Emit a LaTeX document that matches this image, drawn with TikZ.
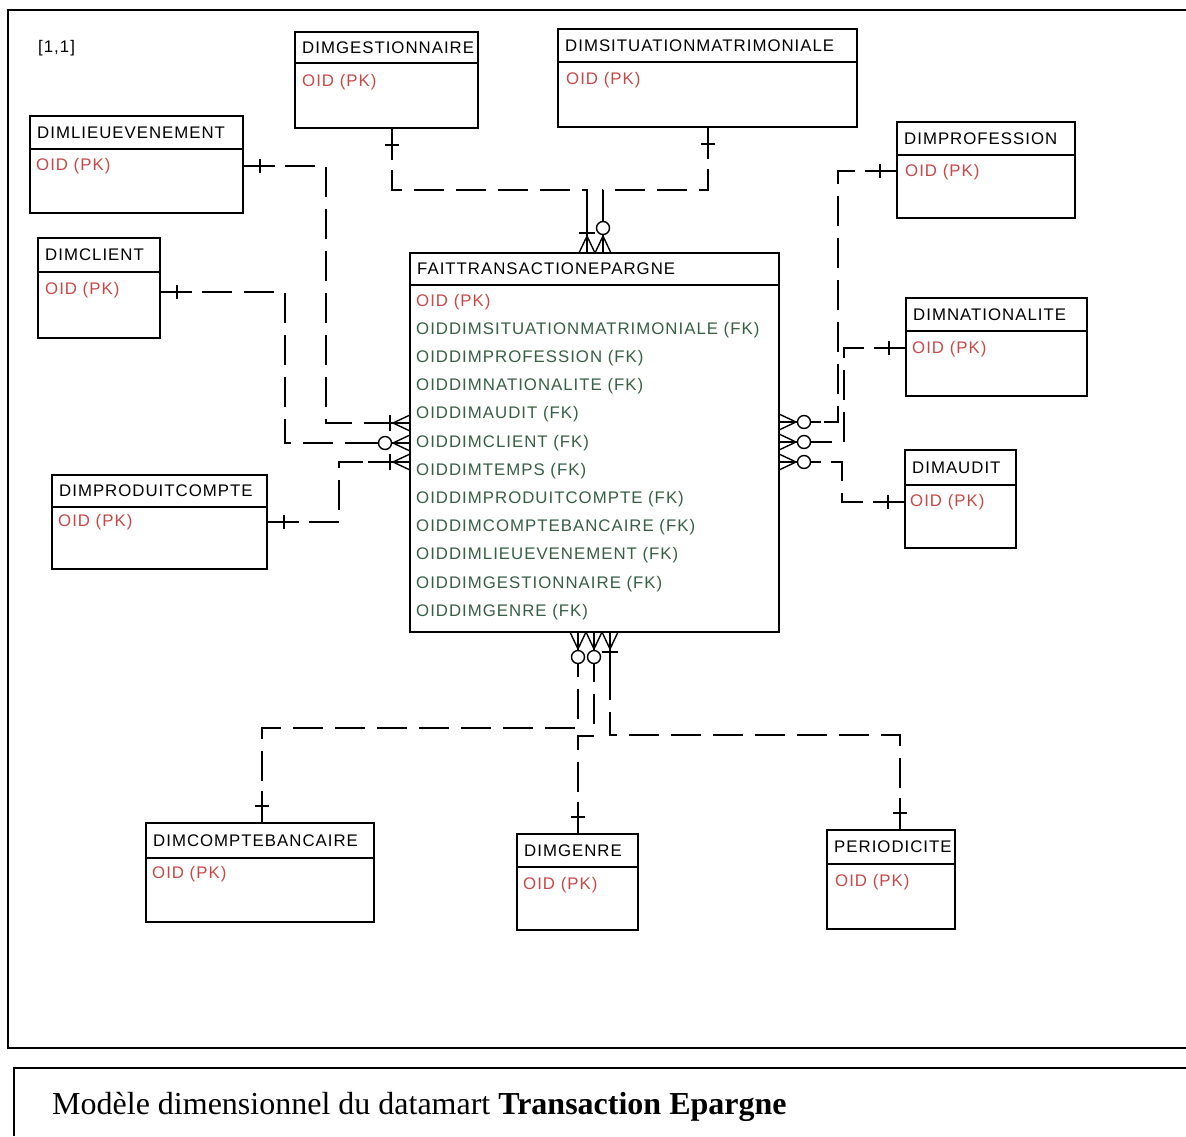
\documentclass[tikz,border=0pt]{standalone}
\usepackage{fontspec}
\setmainfont{Liberation Serif}
\newfontfamily\erfont[LetterSpace=6]{Liberation Sans}
\usetikzlibrary{calc}
\definecolor{pkred}{RGB}{200,72,72}
\definecolor{fkgreen}{RGB}{55,95,68}

% three prongs of a crow's foot; the edge is at the origin, the line leaves along +x
\newcommand\crowlines{\draw[solidln] (17,0) -- (0,-8) (17,0) -- (0,0) (17,0) -- (0,8);}

\tikzset{
  x=1pt, y=-1pt,
  ebox/.style={draw, line width=1.7pt, rectangle, inner sep=0pt, outer sep=0pt},
  eline/.style={line width=1.7pt},
  etitle/.style={anchor=west, inner sep=0pt, font=\erfont\fontsize{16.8}{18}\selectfont},
  epk/.style={anchor=west, inner sep=0pt, text=pkred, font=\erfont\fontsize{16.8}{18}\selectfont},
  efk/.style={anchor=west, inner sep=0pt, text=fkgreen, font=\erfont\fontsize{16.8}{18}\selectfont},
  frame/.style={line width=1.5pt},
  conn/.style={line width=1.4pt, dash pattern=on 30pt off 12pt},
  solidln/.style={line width=1.4pt, solid},
  zeromany/.pic={
    \draw[solidln] (0,0) -- (42,0);
    \crowlines
    \draw[solidln, fill=white] (25,0) circle (6.5pt);
  },
  onemany/.pic={
    \draw[solidln] (0,0) -- (42,0);
    \crowlines
    \draw[solidln] (20,-8) -- (20,8);
  },
  exactone/.pic={
    \draw[solidln] (0,0) -- (32,0);
    \draw[solidln] (17,-7) -- (17,7);
  }
}

% entity box: name, x1, y1, x2, y2, header rule y, title
\newcommand\erent[7]{%
  \node[ebox, minimum width={(#4)-(#2)}, minimum height={(#5)-(#3)}, anchor=north west] (#1) at (#2,#3) {};
  \draw[eline] (#2,#6) -- (#4,#6);
  \node[etitle] (#1-t) at ({#2+7},{(#3+#6)/2}) {#7};
}
\newcommand\erpk[3]{% name, x, y
  \node[epk] (#1-pk) at (#2,#3) {OID (PK)};
}

\begin{document}
\begin{tikzpicture}
\useasboundingbox (0,0) rectangle (1186,1136);
\fill[white] (0,0) rectangle (1186,1136);

% outer frames
\draw[frame] (1186,10) -- (8,10) -- (8,1048) -- (1186,1048);
\draw[frame] (1186,1068) -- (14,1068) -- (14,1136);

\node[etitle] (corner) at (38,48) {[1,1]};

% dimension tables
\erent{gest}{295}{32}{478}{128}{63}{DIMGESTIONNAIRE}
\erpk{gest}{302}{82}
\erent{sit}{558}{29}{857}{127}{62}{DIMSITUATIONMATRIMONIALE}
\erpk{sit}{566}{80}
\erent{lieu}{30}{116}{243}{213}{149}{DIMLIEUEVENEMENT}
\erpk{lieu}{36}{166}
\erent{client}{38}{238}{160}{338}{272}{DIMCLIENT}
\erpk{client}{45}{290}
\erent{prof}{897}{122}{1075}{218}{155}{DIMPROFESSION}
\erpk{prof}{905}{172}
\erent{nat}{906}{298}{1087}{396}{331}{DIMNATIONALITE}
\erpk{nat}{912}{349}
\erent{audit}{905}{450}{1016}{548}{485}{DIMAUDIT}
\erpk{audit}{910}{502}
\erent{prod}{52}{475}{267}{569}{507}{DIMPRODUITCOMPTE}
\erpk{prod}{58}{522}
\erent{cb}{146}{823}{374}{922}{858}{DIMCOMPTEBANCAIRE}
\erpk{cb}{152}{874}
\erent{genre}{517}{834}{638}{930}{867}{DIMGENRE}
\erpk{genre}{523}{885}
\erent{per}{827}{830}{955}{929}{864}{PERIODICITE}
\erpk{per}{835}{882}

% fact table
\erent{fait}{410}{253}{779}{632}{285}{FAITTRANSACTIONEPARGNE}
\erpk{fait}{416}{302}
\foreach \t [count=\i from 0] in {OIDDIMSITUATIONMATRIMONIALE (FK), OIDDIMPROFESSION (FK),
    OIDDIMNATIONALITE (FK), OIDDIMAUDIT (FK), OIDDIMCLIENT (FK), OIDDIMTEMPS (FK),
    OIDDIMPRODUITCOMPTE (FK), OIDDIMCOMPTEBANCAIRE (FK), OIDDIMLIEUEVENEMENT (FK),
    OIDDIMGESTIONNAIRE (FK), OIDDIMGENRE (FK)}
  \node[efk] (fk\i) at (416,{330+28.2*\i}) {\t};

% connectors
\draw[conn] (392,0 |- gest.south) |- (587,190) -- (587,0 |- fait.north);
\draw[conn] (708,0 |- sit.south) |- (603,190) -- (603,0 |- fait.north);
\draw[conn] (lieu.east |- 0,166) -| (326,423) -- (fait.west |- 0,423);
\draw[conn] (client.east |- 0,292) -| (285,443) -- (fait.west |- 0,443);
\draw[conn] (prod.east |- 0,522) -| (339,462) -- (fait.west |- 0,462);
\draw[conn] (prof.west |- 0,171) -| (838,422) -- (fait.east |- 0,422);
\draw[conn] (nat.west |- 0,348) -| (844,442) -- (fait.east |- 0,442);
\draw[conn] (audit.west |- 0,502) -| (842,462) -- (fait.east |- 0,462);
\draw[conn] (262,0 |- cb.north) |- (578,728) -- (578,0 |- fait.south);
\draw[conn] (578,0 |- genre.north) |- (594,736) -- (594,0 |- fait.south);
\draw[conn] (900,0 |- per.north) |- (610,735) -- (610,0 |- fait.south);

% cardinality marks on the dimension side
\pic[rotate=-90] at (392,0 |- gest.south) {exactone};
\pic[rotate=-90] at (708,0 |- sit.south) {exactone};
\pic at (lieu.east |- 0,166) {exactone};
\pic at (client.east |- 0,292) {exactone};
\pic at (prod.east |- 0,522) {exactone};
\pic[rotate=180] at (prof.west |- 0,171) {exactone};
\pic[rotate=180] at (nat.west |- 0,348) {exactone};
\pic[rotate=180] at (audit.west |- 0,502) {exactone};
\pic[rotate=90] at (262,0 |- cb.north) {exactone};
\pic[rotate=90] at (578,0 |- genre.north) {exactone};
\pic[rotate=90] at (900,0 |- per.north) {exactone};

% cardinality marks on the fact side
\pic[rotate=90] at (587,0 |- fait.north) {onemany};
\pic[rotate=90] at (603,0 |- fait.north) {zeromany};
\pic[rotate=180] at (fait.west |- 0,423) {onemany};
\pic[rotate=180] at (fait.west |- 0,443) {zeromany};
\pic[rotate=180] at (fait.west |- 0,462) {onemany};
\pic at (fait.east |- 0,422) {zeromany};
\pic at (fait.east |- 0,442) {zeromany};
\pic at (fait.east |- 0,462) {zeromany};
\pic[rotate=-90] at (578,0 |- fait.south) {zeromany};
\pic[rotate=-90] at (594,0 |- fait.south) {zeromany};
\pic[rotate=-90] at (610,0 |- fait.south) {onemany};

% caption
\node[anchor=base west, inner sep=0pt, font=\fontsize{32}{36}\selectfont] (caption) at (52,1114)
  {Modèle dimensionnel du datamart \textbf{Transaction Epargne}};
\end{tikzpicture}
\end{document}
